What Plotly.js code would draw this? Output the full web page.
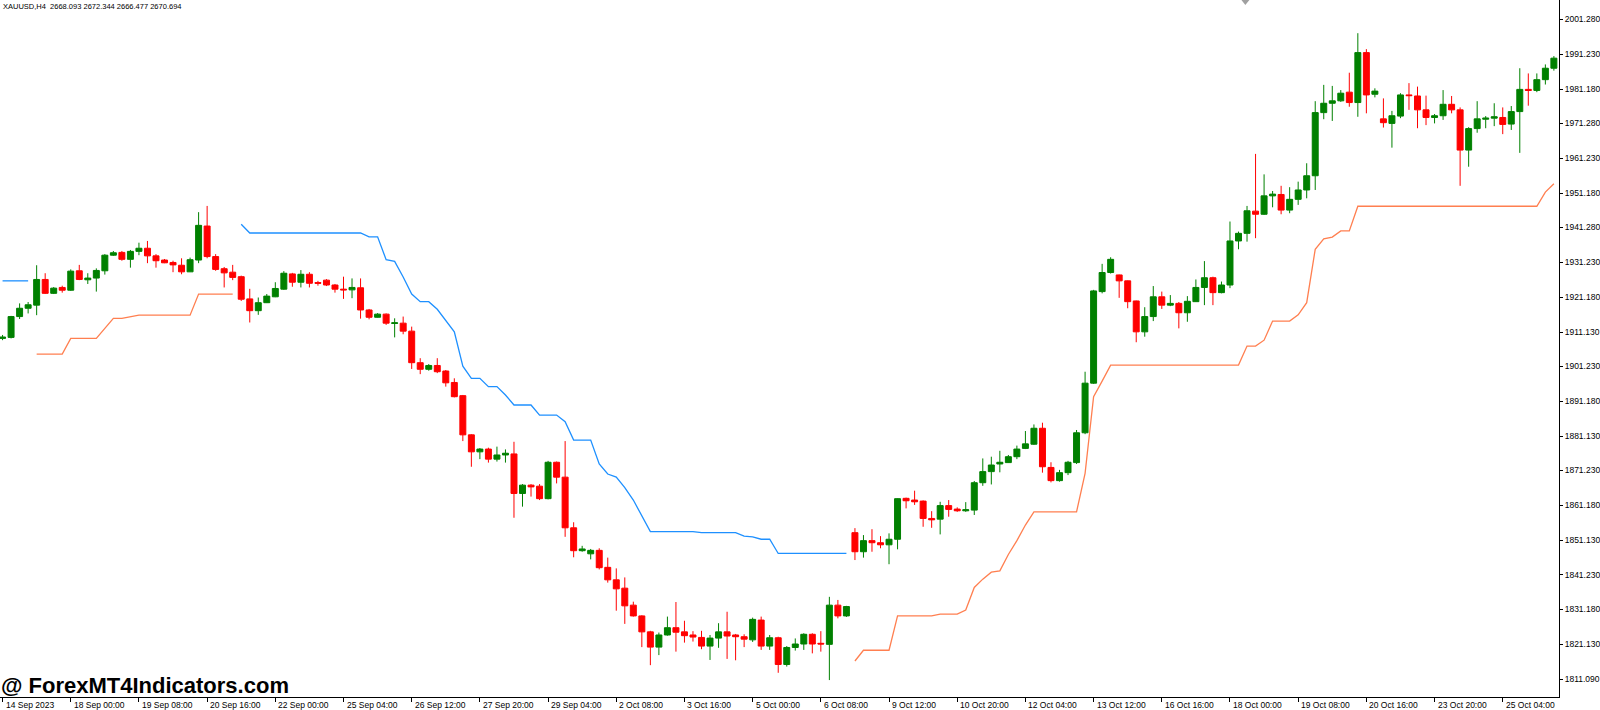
<!DOCTYPE html>
<html>
<head>
<meta charset="utf-8">
<script src="https://cdn.plot.ly/plotly-3.0.1.min.js"></script>
<style>html,body{margin:0;padding:0;background:#fff;}#chart{width:1600px;height:710px;}</style>
</head>
<body>
<div id="chart"></div>
<script>
// Bar index = position on the MT4 time scale (H4 bars)
const openP = [1909.3,1909.6,1915.6,1918.0,1918.9,1926.3,1922.3,1924.0,1923.2,1928.8,1926.2,1926.7,1928.8,1933.3,1934.1,1932.1,1934.4,1935.3,1933.1,1931.9,
1931.2,1930.4,1928.5,1931.9,1941.7,1932.9,1929.4,1928.4,1927.1,1920.7,1917.3,1919.6,1921.3,1923.5,1927.9,1925.5,1927.8,1925.4,1926.1,1924.7,
1923.5,1923.3,1923.9,1917.5,1915.4,1916.3,1913.6,1913.7,1911.4,1902.3,1900.4,1901.5,1899.9,1896.6,1892.8,1881.5,1876.6,1877.4,1874.5,1875.7,
1876.0,1864.6,1867.0,1866.7,1863.1,1873.6,1869.3,1854.7,1848.1,1847.2,1848.2,1843.3,1839.7,1837.3,1832.4,1829.3,1824.7,1820.3,1823.8,1825.9,
1824.7,1823.8,1823.1,1820.6,1822.9,1824.7,1823.8,1823.3,1822.4,1828.1,1820.6,1823.0,1815.3,1820.2,1821.2,1824.0,1821.4,1821.1,1832.4,1829.3,
1853.3,1847.8,1851.0,1850.4,1849.8,1851.4,1863.2,1862.7,1862.4,1857.4,1857.2,1861.1,1860.1,1859.6,1859.8,1867.7,1870.9,1873.1,1873.5,1875.2,
1877.6,1878.8,1883.4,1872.1,1868.3,1870.6,1873.5,1882.1,1896.4,1922.8,1928.3,1927.6,1925.9,1920.1,1911.2,1915.6,1921.3,1918.9,1919.4,1916.7,
1919.9,1924.0,1926.8,1922.5,1924.7,1937.4,1939.6,1946.0,1945.1,1950.4,1950.8,1946.3,1949.4,1952.1,1956.2,1974.4,1977.1,1977.8,1980.3,1977.3,
1991.7,1979.7,1972.6,1971.3,1973.4,1979.5,1979.2,1975.2,1973.0,1973.5,1976.8,1975.2,1963.6,1969.8,1972.5,1972.8,1973.0,1971.1,1974.7,1981.1,
1980.8,1983.9,1987.2];
const highP = [1910.3,1915.8,1919.4,1919.8,1930.4,1928.1,1924.1,1924.5,1929.2,1930.5,1928.1,1929.5,1933.6,1934.5,1934.5,1934.8,1936.9,1937.4,1933.6,1932.2,
1931.7,1932.4,1932.6,1945.7,1947.5,1933.6,1929.9,1930.5,1927.4,1923.6,1921.1,1922.1,1925.5,1928.7,1928.2,1929.0,1928.4,1925.9,1926.4,1925.0,
1927.1,1926.6,1926.6,1917.8,1916.6,1916.5,1915.1,1915.6,1912.7,1903.6,1901.9,1903.6,1900.2,1897.8,1893.0,1881.7,1877.7,1877.8,1878.1,1877.3,
1879.5,1867.3,1867.3,1867.3,1874.0,1873.8,1879.7,1856.3,1849.5,1848.6,1848.8,1846.1,1843.0,1840.4,1833.4,1829.5,1825.0,1824.5,1829.1,1833.3,
1827.9,1824.9,1825.0,1823.8,1827.2,1830.5,1824.1,1824.0,1828.8,1829.1,1823.8,1823.3,1820.6,1822.8,1824.3,1824.3,1824.9,1834.8,1833.9,1832.2,
1854.6,1852.6,1854.3,1852.3,1853.1,1863.2,1863.4,1865.4,1862.6,1859.5,1862.2,1862.7,1860.6,1862.1,1868.2,1874.7,1875.2,1876.9,1875.7,1878.4,
1882.6,1884.5,1885.0,1873.6,1871.4,1874.0,1882.9,1899.7,1923.3,1930.8,1932.7,1927.7,1926.0,1920.2,1918.3,1924.4,1922.8,1921.8,1919.8,1921.5,
1926.3,1931.6,1927.1,1925.7,1943.0,1940.1,1947.5,1962.5,1956.6,1951.8,1953.3,1952.9,1954.5,1959.8,1977.7,1982.4,1982.1,1980.9,1985.9,1997.3,
1992.7,1981.4,1978.5,1974.9,1980.0,1982.9,1981.9,1979.3,1974.0,1980.9,1979.2,1975.9,1970.2,1977.7,1973.4,1977.1,1975.9,1976.3,1987.2,1985.7,
1985.7,1988.3,1990.7];
const lowP = [1908.8,1909.3,1914.9,1916.5,1916.0,1922.1,1922.1,1922.5,1923.0,1926.1,1925.0,1922.8,1927.7,1933.1,1931.7,1929.7,1933.3,1931.0,1929.7,1931.0,
1928.4,1927.8,1928.5,1931.0,1932.4,1928.8,1924.0,1926.1,1920.1,1913.9,1916.1,1919.5,1921.2,1923.3,1924.2,1924.0,1924.0,1924.5,1924.4,1922.5,
1920.7,1920.9,1915.0,1914.8,1915.3,1913.2,1909.6,1910.5,1900.5,1899.0,1900.0,1899.3,1895.4,1892.3,1879.7,1872.3,1874.5,1873.5,1873.8,1873.5,
1857.6,1860.8,1863.7,1862.7,1862.9,1867.5,1852.1,1846.2,1847.8,1845.6,1842.7,1838.9,1830.8,1827.0,1829.1,1820.3,1815.1,1818.0,1823.6,1819.0,
1821.6,1821.9,1819.7,1816.6,1820.1,1816.9,1816.5,1820.3,1821.8,1819.5,1819.5,1812.9,1814.7,1819.3,1819.5,1818.5,1819.0,1810.8,1828.6,1829.0,
1845.4,1846.1,1847.8,1848.8,1844.2,1848.5,1860.3,1861.3,1855.0,1854.7,1852.8,1857.9,1859.3,1859.3,1858.4,1866.8,1867.2,1870.7,1873.4,1874.5,
1877.4,1878.6,1870.6,1867.8,1868.0,1869.9,1873.1,1881.7,1896.2,1922.3,1928.0,1921.0,1918.0,1908.2,1909.8,1914.3,1917.8,1918.6,1912.2,1914.1,
1919.8,1918.9,1918.9,1922.3,1923.8,1935.0,1937.2,1938.2,1944.9,1947.1,1945.1,1945.4,1947.8,1949.7,1952.1,1972.5,1972.0,1977.5,1976.1,1973.2,
1974.2,1978.8,1970.1,1964.3,1972.8,1975.2,1969.9,1970.8,1971.3,1972.3,1974.2,1953.3,1958.8,1968.6,1969.9,1970.5,1968.2,1969.4,1962.8,1976.4,
1980.3,1982.5,1986.5];
const closeP = [1909.7,1915.6,1918.0,1919.0,1926.3,1922.3,1923.8,1923.2,1928.7,1926.3,1926.7,1928.9,1933.3,1934.0,1932.1,1934.4,1935.3,1933.1,1931.7,1931.1,
1930.5,1928.5,1932.0,1941.9,1932.9,1929.2,1928.2,1926.9,1920.6,1917.3,1919.6,1921.5,1923.7,1928.1,1925.5,1927.8,1925.2,1925.2,1924.7,1923.5,
1923.3,1924.0,1917.5,1915.4,1916.3,1913.7,1913.8,1911.4,1902.3,1900.4,1901.5,1899.7,1896.5,1892.5,1881.5,1876.6,1877.4,1874.5,1875.7,1876.2,
1864.6,1867.0,1866.5,1863.1,1873.6,1869.3,1854.7,1848.1,1848.6,1848.2,1843.2,1839.7,1837.1,1832.2,1829.3,1824.7,1820.3,1823.8,1825.9,1824.6,
1823.6,1823.2,1820.6,1822.9,1824.7,1823.5,1823.3,1822.6,1828.3,1820.6,1823.0,1815.3,1820.2,1821.2,1824.0,1821.2,1821.2,1832.4,1829.3,1832.0,
1847.8,1851.0,1850.4,1849.8,1851.4,1863.1,1862.5,1862.2,1857.4,1857.0,1861.1,1860.0,1859.6,1859.9,1867.7,1870.9,1872.8,1873.6,1875.2,1877.4,
1878.9,1883.4,1872.3,1868.3,1870.6,1873.6,1882.1,1896.4,1923.0,1928.3,1932.1,1925.9,1919.9,1911.2,1915.6,1921.3,1918.9,1919.4,1916.7,1920.0,
1924.0,1926.8,1922.5,1924.7,1937.4,1939.6,1946.1,1945.1,1950.4,1950.9,1946.3,1949.4,1952.1,1956.2,1974.4,1977.1,1977.8,1980.0,1977.3,1991.7,
1979.5,1980.6,1971.5,1973.5,1979.5,1979.3,1975.2,1973.0,1973.5,1976.8,1975.2,1963.6,1969.8,1972.6,1972.8,1973.2,1971.0,1974.7,1981.1,1980.8,
1983.9,1987.2,1990.1];
// Indicator channel (blue = upper line, orange = lower line); null = not drawn
const blueLine = [1925.9,1925.9,1925.9,1925.9,
null,null,null,null,null,null,null,null,null,null,null,null,null,null,null,null,null,null,null,null,null,null,null,null,
1942.2,1939.7,1939.7,1939.7,1939.7,1939.7,1939.7,1939.7,1939.7,1939.7,1939.7,1939.7,1939.7,1939.7,1939.7,
1938.6,1938.6,1932.0,1931.5,1927.0,1922.1,1919.9,1919.9,1917.7,1914.5,1911.2,1901.3,1897.8,1897.8,1895.4,1895.4,1893.0,
1890.1,1890.1,1890.1,1887.2,1887.2,1887.2,1885.3,1880.0,1880.0,1880.0,1873.1,1870.2,1869.3,1866.3,1862.7,1858.0,
1853.6,1853.6,1853.6,1853.6,1853.6,1853.6,1853.3,1853.3,1853.3,1853.3,1853.3,1852.3,1852.1,1851.4,1851.4,
1847.3,1847.3,1847.3,1847.3,1847.3,1847.3,1847.3,1847.3,1847.3,
null,null,null,null,null,null,null,null,null,null,null,null,null,null,null,null,null,null,null,null,null,null,null,null,null,null,null,null,null,null,
null,null,null,null,null,null,null,null,null,null,null,null,null,null,null,null,null,null,null,null,null,null,null,null,null,null,null,null,null,null,
null,null,null,null,null,null,null,null,null,null,null,null,null,null,null,null,null,null,null,null,null,null,null];
const orangeLine = [null,null,null,null,
1904.8,1904.8,1904.8,1904.8,1909.3,1909.3,1909.3,1909.3,1912.2,1915.1,1915.1,1915.5,
1916.0,1916.0,1916.0,1916.0,1916.0,1916.0,1916.0,1922.1,1922.1,1922.1,1922.1,1922.1,
null,null,null,null,null,null,null,null,null,null,null,null,null,null,null,null,null,null,null,null,null,null,null,null,
null,null,null,null,null,null,null,null,null,null,null,null,null,null,null,null,null,null,null,null,null,null,null,null,
null,null,null,null,null,null,null,null,null,null,null,null,null,null,null,null,null,null,null,null,null,null,null,null,
1816.3,1819.4,1819.4,1819.4,1819.4,1829.3,1829.3,1829.3,1829.3,1829.3,1829.8,1829.8,1829.8,
1831.0,1837.5,1839.9,1841.9,1842.3,1847.0,1851.0,1855.5,
1859.3,1859.3,1859.3,1859.3,1859.3,1859.3,1870.4,1892.5,1897.0,
1901.6,1901.6,1901.6,1901.6,1901.6,1901.6,1901.6,1901.6,1901.6,1901.6,1901.6,1901.6,1901.6,1901.6,1901.6,1901.6,
1907.1,1907.1,1908.8,1914.3,1914.3,1914.3,1916.1,1919.6,1935.0,1938.0,1938.5,1940.3,1940.3,
1947.4,1947.4,1947.4,1947.4,1947.4,1947.4,1947.4,1947.4,1947.4,1947.4,1947.4,1947.4,1947.4,1947.4,1947.4,1947.4,1947.4,1947.4,1947.4,1947.4,1947.4,1947.4,
1951.5,1953.9];
const priceTicks = [2001.28,1991.23,1981.18,1971.28,1961.23,1951.18,1941.28,1931.23,1921.18,1911.13,1901.23,1891.18,1881.13,1871.23,1861.18,1851.13,1841.23,1831.18,1821.13,1811.09];
const priceTickText = ['2001.280','1991.230','1981.180','1971.280','1961.230','1951.180','1941.280','1931.230','1921.180','1911.130','1901.230','1891.180','1881.130','1871.230','1861.180','1851.130','1841.230','1831.180','1821.130','1811.090'];
const timeTickBars = [0,8,16,24,32,40,48,56,64,72,80,88,96,104,112,120,128,136,144,152,160,168,176];
const timeTickText = ['14 Sep 2023','18 Sep 00:00','19 Sep 08:00','20 Sep 16:00','22 Sep 00:00','25 Sep 04:00','26 Sep 12:00','27 Sep 20:00','29 Sep 04:00','2 Oct 08:00','3 Oct 16:00','5 Oct 00:00','6 Oct 08:00','9 Oct 12:00','10 Oct 20:00','12 Oct 04:00','13 Oct 12:00','16 Oct 16:00','18 Oct 00:00','19 Oct 08:00','20 Oct 16:00','23 Oct 20:00','25 Oct 04:00'];
const titleText = 'XAUUSD,H4  2668.093 2672.344 2666.477 2670.694';
const watermarkText = '@ ForexMT4Indicators.com';

const barIdx = openP.map((_, i) => i);
const FONT = 'Liberation Sans, Arial, sans-serif';

const traces = [
  {
    type: 'candlestick', x: barIdx, open: openP, high: highP, low: lowP, close: closeP,
    increasing: {line: {color: '#008000', width: 1}, fillcolor: '#008000'},
    decreasing: {line: {color: '#ff0000', width: 1}, fillcolor: '#ff0000'},
    whiskerwidth: 0, hoverinfo: 'skip', showlegend: false
  },
  {type: 'scatter', mode: 'lines', x: barIdx, y: blueLine, connectgaps: false,
   line: {color: '#1e90ff', width: 1.3}, hoverinfo: 'skip', showlegend: false},
  {type: 'scatter', mode: 'lines', x: barIdx, y: orangeLine, connectgaps: false,
   line: {color: '#ff7f50', width: 1.3}, hoverinfo: 'skip', showlegend: false}
];

const X0 = -0.3, X1 = 182.6;
const annotations = timeTickBars.map((b, i) => ({
  x: (b - X0) / (X1 - X0), y: 0, xref: 'paper', yref: 'paper', text: timeTickText[i], showarrow: false,
  xanchor: 'left', yanchor: 'top', xshift: 1, yshift: -1,
  font: {family: FONT, size: 8.5, color: '#000'}
}));
annotations.push({
  x: 0, y: 1, xref: 'paper', yref: 'paper', text: titleText, showarrow: false,
  xanchor: 'left', yanchor: 'top', xshift: 1, yshift: 0,
  font: {family: FONT, size: 7.5, color: '#000'}
});
annotations.push({
  x: 0, y: 0, xref: 'paper', yref: 'paper', text: '<b>' + watermarkText + '</b>', showarrow: false,
  xanchor: 'left', yanchor: 'bottom', xshift: -1, yshift: -3,
  font: {family: FONT, size: 22, color: '#000'}
});

const layout = {
  width: 1600, height: 710,
  margin: {l: 0, r: 41, t: 0, b: 13, pad: 0},
  paper_bgcolor: '#ffffff', plot_bgcolor: '#ffffff',
  showlegend: false,
  boxgap: 0.3, boxgroupgap: 0,
  xaxis: {
    type: 'linear', range: [X0, X1], rangeslider: {visible: false},
    showgrid: false, zeroline: false, showline: true, linecolor: '#000', linewidth: 1,
    ticks: 'outside', ticklen: 4, tickcolor: '#000', tickwidth: 1,
    tickmode: 'array', tickvals: timeTickBars, showticklabels: false, fixedrange: true
  },
  yaxis: {
    side: 'right', range: [1805.92, 2006.87],
    showgrid: false, zeroline: false, showline: true, linecolor: '#000', linewidth: 1,
    ticks: 'outside', ticklen: 3, tickcolor: '#000', tickwidth: 1,
    tickmode: 'array', tickvals: priceTicks, ticktext: priceTickText,
    tickfont: {family: FONT, size: 8.5, color: '#000'}, fixedrange: true
  },
  shapes: [{
    type: 'path', xref: 'paper', yref: 'paper',
    path: 'M 0.7963 1 L 0.8014 1 L 0.7988 0.9928 Z',
    fillcolor: '#a0a0a0', line: {width: 0}
  }],
  annotations: annotations
};

Plotly.newPlot('chart', traces, layout, {staticPlot: true, displayModeBar: false});
</script>
</body>
</html>
